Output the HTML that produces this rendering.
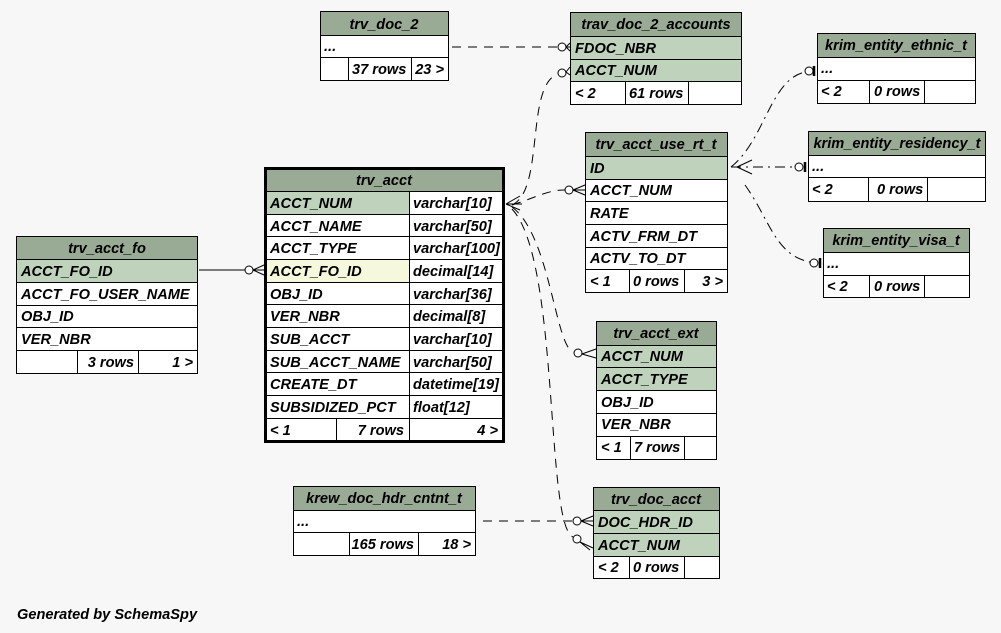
<!DOCTYPE html>
<html><head><meta charset="utf-8"><style>
html,body{margin:0;padding:0;background:#f7f7f7;}
svg{display:block}
text{font-family:"Liberation Sans",sans-serif;font-weight:bold;font-style:italic;font-size:14.6px;fill:#000}
.h{fill:#9aab95}.k{fill:#bfd3bc}.w{fill:#fff}.f{fill:#f5f8dc}
.b{fill:none;stroke:#000;stroke-width:1}
.d{fill:none;stroke:#000;stroke-width:1;stroke-dasharray:9,7}
.dd{fill:none;stroke:#000;stroke-width:1;stroke-dasharray:10,5,2,5}
.c{fill:#fff;stroke:#000;stroke-width:1}
</style></head><body>
<svg width="1001" height="633" xmlns="http://www.w3.org/2000/svg">
<rect width="1001" height="633" fill="#f7f7f7"/>

<line class="d" x1="452" y1="47" x2="558" y2="47"/>
<circle class="c" cx="562" cy="47" r="4"/>
<path class="b" d="M566,47 L570,43 M566,47 L570,51 M566,47 L570,47"/>

<path class="d" d="M512,205 C545,190 525,85 558,74"/>
<circle class="c" cx="562" cy="73" r="4"/>
<path class="b" d="M566,72 L570,67 M566,72 L570,75"/>

<path class="d" d="M512,205 C540,196 548,190 565,190"/>
<circle class="c" cx="569" cy="190" r="4"/>
<path class="b" d="M573,190 L585,185 M573,190 L585,195 M573,190 L585,190"/>

<path class="d" d="M512,207 C550,235 555,345 573,352"/>
<circle class="c" cx="578" cy="353" r="4"/>
<path class="b" d="M582,354 L596,349 M582,354 L596,358"/>

<path class="d" d="M512,209 C560,260 545,525 573,537"/>
<circle class="c" cx="577" cy="539" r="4"/>
<path class="b" d="M580,542 L593,548 M580,542 L590,550"/>

<line class="d" x1="483" y1="521" x2="572" y2="521"/>
<circle class="c" cx="577" cy="521" r="4"/>
<path class="b" d="M581,521 L593,516 M581,521 L593,526 M581,521 L593,521"/>

<path class="b" d="M506,204 L520,196 M506,204 L520,210 M506,204 L522,204"/>

<line class="b" x1="199" y1="270" x2="245" y2="270"/>
<circle class="c" cx="249" cy="270" r="4"/>
<path class="b" d="M253,270 L264,265 M253,270 L264,275 M253,270 L264,270"/>

<path class="b" d="M737,167 L752,160 M737,167 L752,174"/>
<path class="dd" d="M731,167 C765,140 770,80 805,72"/>
<circle class="c" cx="809" cy="71" r="4"/>
<line x1="814" y1="66" x2="814" y2="76" stroke="#000" stroke-width="2.5"/>
<line class="dd" x1="731" y1="167" x2="799" y2="167"/>
<circle class="c" cx="799" cy="167" r="4"/>
<line x1="805" y1="162" x2="805" y2="172" stroke="#000" stroke-width="2.5"/>
<path class="dd" d="M745,185 C770,220 775,255 810,262"/>
<circle class="c" cx="814" cy="263" r="4"/>
<line x1="820" y1="258" x2="820" y2="268" stroke="#000" stroke-width="2.5"/>

<rect class="w" x="320.5" y="11.5" width="128" height="69"/>
<rect class="h" x="320.5" y="11.5" width="128" height="24"/>
<path class="b" d="M320.5,35.5H448.5M320.5,57.5H448.5M348.5,57.5V80.5M411.5,57.5V80.5"/>
<rect class="b" x="320.5" y="11.5" width="128" height="69"/>
<text x="384" y="29" text-anchor="middle">trv_doc_2</text>
<text x="324" y="51">...</text>
<text x="352" y="74">37 rows</text>
<text x="444" y="74" text-anchor="end">23 &gt;</text>

<rect class="k" x="570.5" y="12.5" width="171" height="92"/>
<rect class="h" x="570.5" y="12.5" width="171" height="24"/>
<rect class="w" x="570.5" y="81.5" width="171" height="23"/>
<path class="b" d="M570.5,36.5H741.5M570.5,59.5H741.5M570.5,81.5H741.5M625.5,81.5V104.5M688.5,81.5V104.5"/>
<rect class="b" x="570.5" y="12.5" width="171" height="92"/>
<text x="656" y="29" text-anchor="middle">trav_doc_2_accounts</text>
<text x="575" y="53">FDOC_NBR</text>
<text x="575" y="75">ACCT_NUM</text>
<text x="575" y="98">&lt; 2</text>
<text x="629" y="98">61 rows</text>

<rect class="w" x="817.5" y="33.5" width="158" height="70"/>
<rect class="h" x="817.5" y="33.5" width="158" height="24"/>
<path class="b" d="M817.5,57.5H975.5M817.5,80.5H975.5M869.5,80.5V103.5M924.5,80.5V103.5"/>
<rect class="b" x="817.5" y="33.5" width="158" height="70"/>
<text x="896" y="50" text-anchor="middle">krim_entity_ethnic_t</text>
<text x="821" y="73">...</text>
<text x="821" y="96">&lt; 2</text>
<text x="874" y="96">0 rows</text>

<rect class="w" x="808.5" y="131.5" width="177" height="70"/>
<rect class="h" x="808.5" y="131.5" width="177" height="24"/>
<path class="b" d="M808.5,155.5H985.5M808.5,177.5H985.5M868.5,177.5V201.5M927.5,177.5V201.5"/>
<rect class="b" x="808.5" y="131.5" width="177" height="70"/>
<text x="897" y="148" text-anchor="middle">krim_entity_residency_t</text>
<text x="812" y="171">...</text>
<text x="812" y="194">&lt; 2</text>
<text x="877" y="194">0 rows</text>

<rect class="w" x="823.5" y="228.5" width="146" height="69"/>
<rect class="h" x="823.5" y="228.5" width="146" height="24"/>
<path class="b" d="M823.5,252.5H969.5M823.5,275.5H969.5M869.5,275.5V297.5M924.5,275.5V297.5"/>
<rect class="b" x="823.5" y="228.5" width="146" height="69"/>
<text x="896" y="245" text-anchor="middle">krim_entity_visa_t</text>
<text x="827" y="268">...</text>
<text x="827" y="291">&lt; 2</text>
<text x="874" y="291">0 rows</text>

<rect class="w" x="585.5" y="132.5" width="142" height="160"/>
<rect class="h" x="585.5" y="132.5" width="142" height="24"/>
<rect class="k" x="585.5" y="156.5" width="142" height="23"/>
<path class="b" d="M585.5,156.5H727.5M585.5,179.5H727.5M585.5,201.5H727.5M585.5,224.5H727.5M585.5,247.5H727.5M585.5,269.5H727.5M629.5,269.5V292.5M684.5,269.5V292.5"/>
<rect class="b" x="585.5" y="132.5" width="142" height="160"/>
<text x="656" y="149" text-anchor="middle">trv_acct_use_rt_t</text>
<text x="590" y="173">ID</text>
<text x="590" y="195">ACCT_NUM</text>
<text x="590" y="218">RATE</text>
<text x="590" y="241">ACTV_FRM_DT</text>
<text x="590" y="263">ACTV_TO_DT</text>
<text x="590" y="286">&lt; 1</text>
<text x="633" y="286">0 rows</text>
<text x="723" y="286" text-anchor="end">3 &gt;</text>

<rect class="w" x="265" y="168" width="239" height="274"/>
<rect class="h" x="265" y="168" width="239" height="23"/>
<rect class="k" x="265" y="191" width="144" height="23"/>
<rect class="f" x="265" y="259" width="144" height="23"/>
<path class="b" d="M265,191.5H504M265,214.5H504M265,236.5H504M265,259.5H504M265,282.5H504M265,304.5H504M265,327.5H504M265,350.5H504M265,372.5H504M265,395.5H504M265,418.5H504M409.5,191V442M336.5,418V442"/>
<rect x="265.5" y="168.5" width="238" height="273" fill="none" stroke="#000" stroke-width="3"/>
<text x="384" y="185" text-anchor="middle">trv_acct</text>
<g>
<text x="270" y="208">ACCT_NUM</text><text x="413" y="208">varchar[10]</text>
<text x="270" y="231">ACCT_NAME</text><text x="413" y="231">varchar[50]</text>
<text x="270" y="253">ACCT_TYPE</text><text x="413" y="253">varchar[100]</text>
<text x="270" y="276">ACCT_FO_ID</text><text x="413" y="276">decimal[14]</text>
<text x="270" y="299">OBJ_ID</text><text x="413" y="299">varchar[36]</text>
<text x="270" y="321">VER_NBR</text><text x="413" y="321">decimal[8]</text>
<text x="270" y="344">SUB_ACCT</text><text x="413" y="344">varchar[10]</text>
<text x="270" y="367">SUB_ACCT_NAME</text><text x="413" y="367">varchar[50]</text>
<text x="270" y="389">CREATE_DT</text><text x="413" y="389">datetime[19]</text>
<text x="270" y="412">SUBSIDIZED_PCT</text><text x="413" y="412">float[12]</text>
<text x="270" y="435">&lt; 1</text>
<text x="404" y="435" text-anchor="end">7 rows</text>
<text x="498" y="435" text-anchor="end">4 &gt;</text>
</g>

<rect class="w" x="16.5" y="236.5" width="181" height="137"/>
<rect class="h" x="16.5" y="236.5" width="181" height="23"/>
<rect class="k" x="16.5" y="259.5" width="181" height="23"/>
<path class="b" d="M16.5,259.5H197.5M16.5,282.5H197.5M16.5,305.5H197.5M16.5,327.5H197.5M16.5,350.5H197.5M77.5,350.5V373.5M138.5,350.5V373.5"/>
<rect class="b" x="16.5" y="236.5" width="181" height="137"/>
<text x="107" y="253" text-anchor="middle">trv_acct_fo</text>
<text x="21" y="276">ACCT_FO_ID</text>
<text x="21" y="299">ACCT_FO_USER_NAME</text>
<text x="21" y="321">OBJ_ID</text>
<text x="21" y="344">VER_NBR</text>
<text x="134" y="367" text-anchor="end">3 rows</text>
<text x="193" y="367" text-anchor="end">1 &gt;</text>

<rect class="w" x="596.5" y="321.5" width="120" height="138"/>
<rect class="h" x="596.5" y="321.5" width="120" height="24"/>
<rect class="k" x="596.5" y="345.5" width="120" height="45"/>
<path class="b" d="M596.5,345.5H716.5M596.5,367.5H716.5M596.5,390.5H716.5M596.5,413.5H716.5M596.5,436.5H716.5M630.5,436.5V459.5M684.5,436.5V459.5"/>
<rect class="b" x="596.5" y="321.5" width="120" height="138"/>
<text x="656" y="338" text-anchor="middle">trv_acct_ext</text>
<text x="601" y="361">ACCT_NUM</text>
<text x="601" y="384">ACCT_TYPE</text>
<text x="601" y="407">OBJ_ID</text>
<text x="601" y="429">VER_NBR</text>
<text x="601" y="452">&lt; 1</text>
<text x="634" y="452">7 rows</text>

<rect class="w" x="293.5" y="486.5" width="182" height="69"/>
<rect class="h" x="293.5" y="486.5" width="182" height="24"/>
<path class="b" d="M293.5,510.5H475.5M293.5,532.5H475.5M349.5,532.5V555.5M418.5,532.5V555.5"/>
<rect class="b" x="293.5" y="486.5" width="182" height="69"/>
<text x="384" y="503" text-anchor="middle">krew_doc_hdr_cntnt_t</text>
<text x="297" y="526">...</text>
<text x="414" y="549" text-anchor="end">165 rows</text>
<text x="471" y="549" text-anchor="end">18 &gt;</text>

<rect class="w" x="593.5" y="487.5" width="126" height="91"/>
<rect class="h" x="593.5" y="487.5" width="126" height="23"/>
<rect class="k" x="593.5" y="510.5" width="126" height="46"/>
<path class="b" d="M593.5,510.5H719.5M593.5,533.5H719.5M593.5,556.5H719.5M629.5,556.5V578.5M684.5,556.5V578.5"/>
<rect class="b" x="593.5" y="487.5" width="126" height="91"/>
<text x="656" y="504" text-anchor="middle">trv_doc_acct</text>
<text x="598" y="527">DOC_HDR_ID</text>
<text x="598" y="550">ACCT_NUM</text>
<text x="598" y="572">&lt; 2</text>
<text x="633" y="572">0 rows</text>

<text x="17" y="619">Generated by SchemaSpy</text>
</svg>
</body></html>
